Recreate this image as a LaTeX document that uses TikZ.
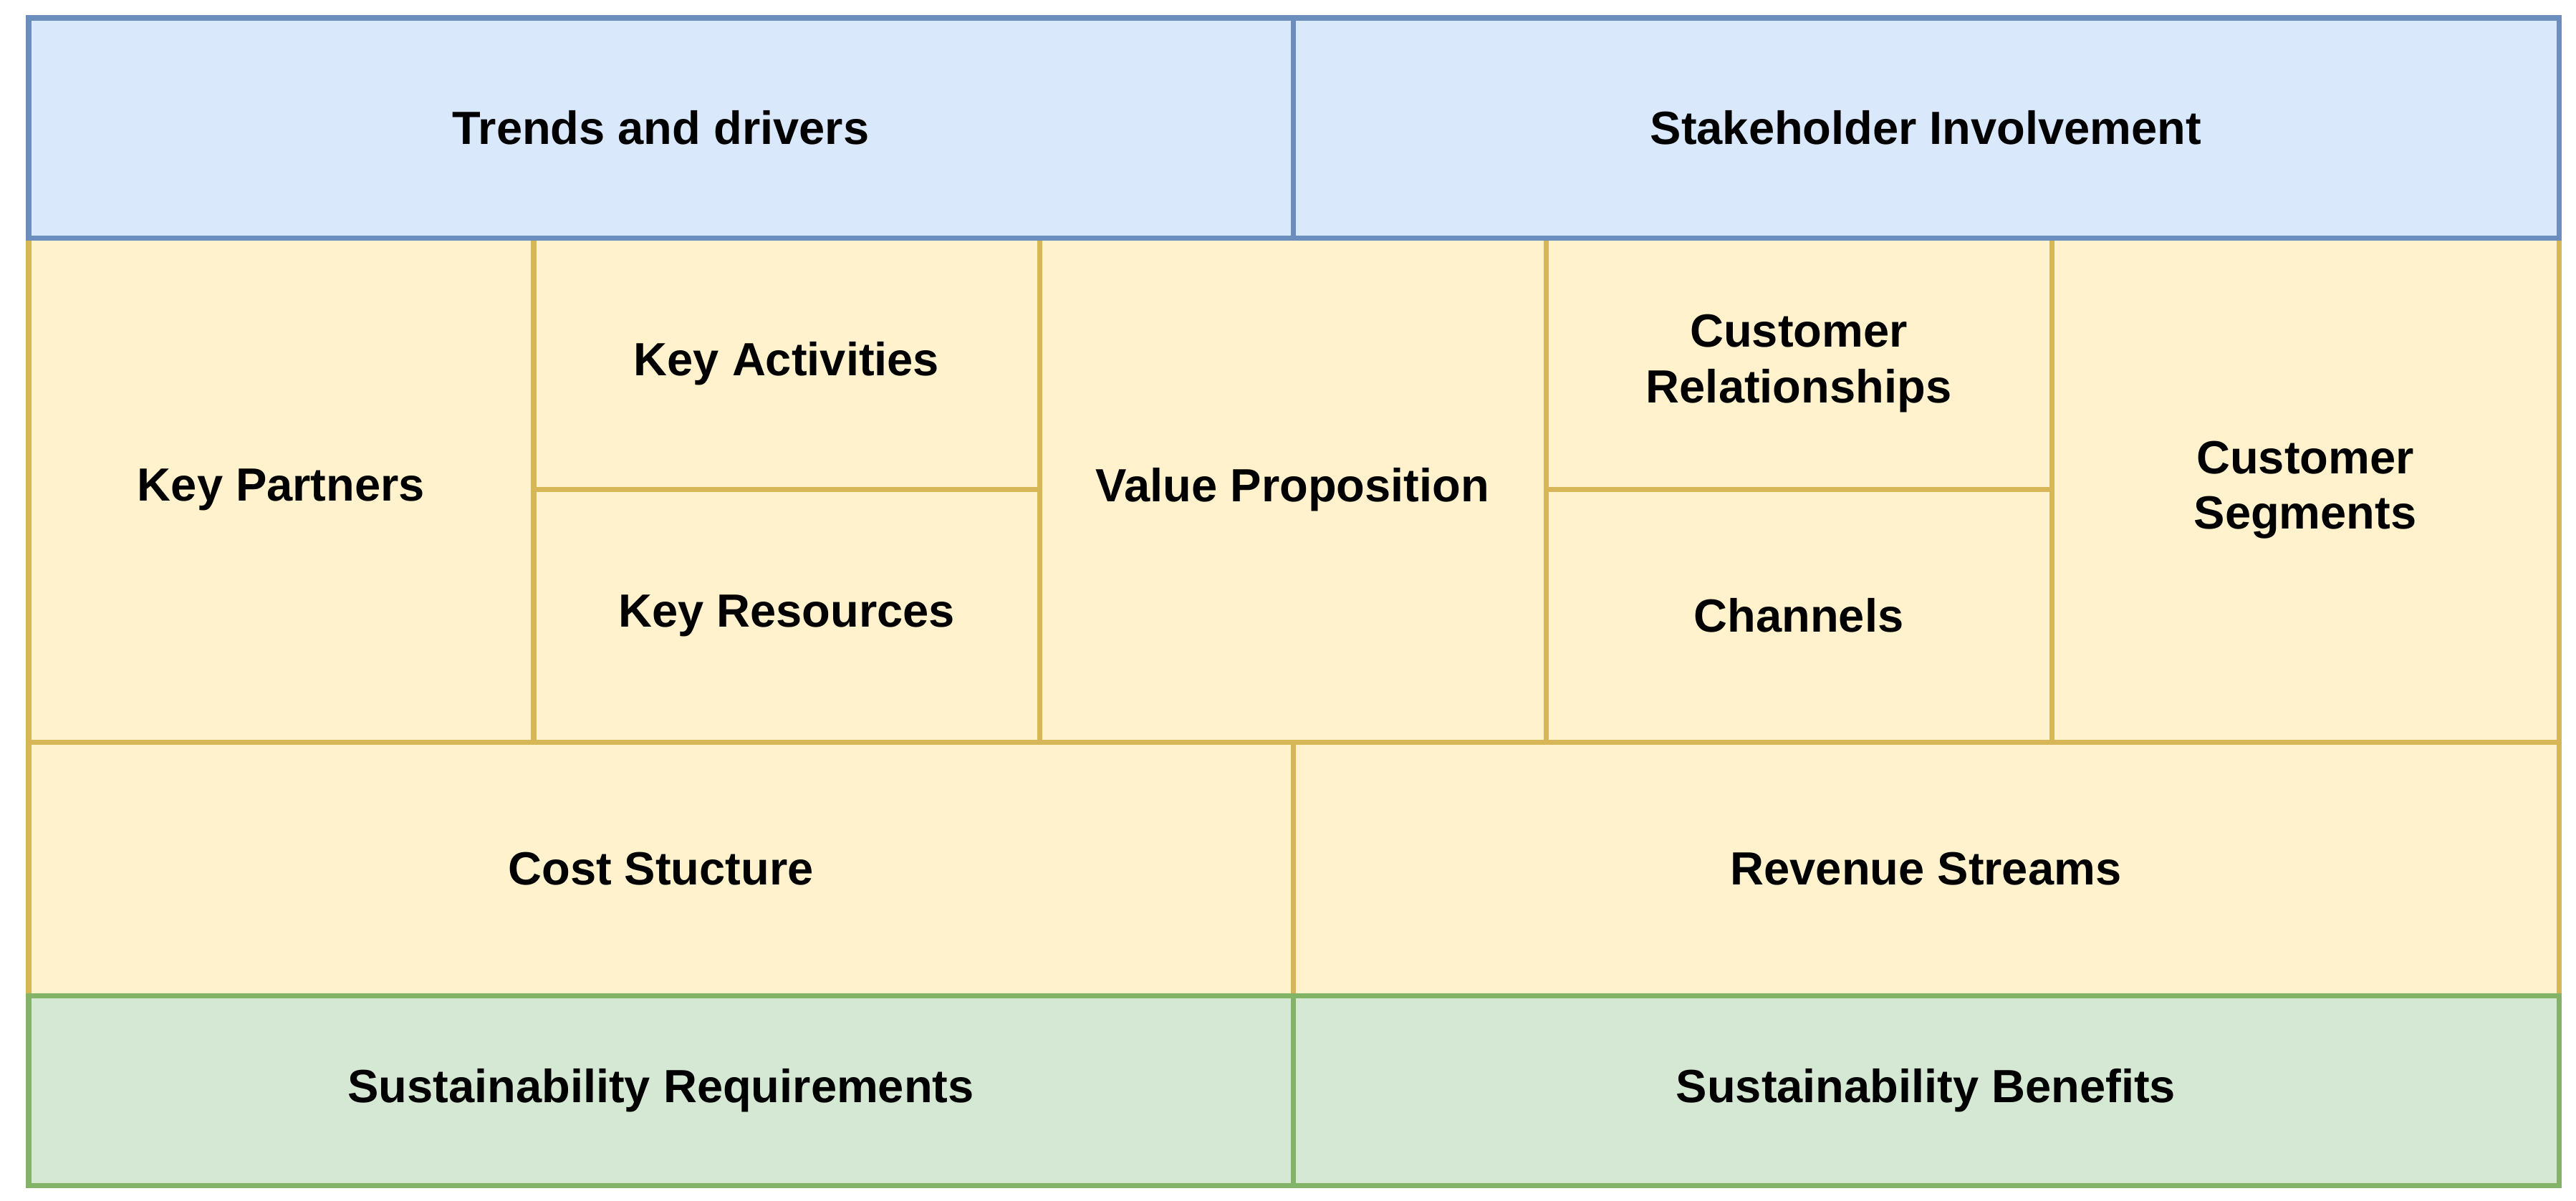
\documentclass[tikz,border=0pt]{standalone}
\usepackage{fontspec}
\setmainfont{Liberation Sans}
\usepackage{tikz}
\usepackage{xcolor}

\definecolor{bluefill}{HTML}{DAE8FC}
\definecolor{blueline}{HTML}{6C8EBF}
\definecolor{yellowfill}{HTML}{FFF2CC}
\definecolor{yellowline}{HTML}{D6B656}
\definecolor{greenfill}{HTML}{D5E8D4}
\definecolor{greenline}{HTML}{82B366}

\begin{document}
\begin{tikzpicture}[
    cell/.style={rectangle, inner sep=0pt, line width=2pt, align=center,
        font=\fontsize{18.5}{22}\selectfont\bfseries},
    yellowcell/.style={cell, fill=yellowfill, draw=yellowline},
    bluecell/.style={cell, fill=bluefill, draw=blueline},
    greencell/.style={cell, fill=greenfill, draw=greenline}
]
    \useasboundingbox (0,0) rectangle (35.96,-16.76);

    % Canvas blocks
    \node[yellowcell, minimum width=7.05cm, minimum height=7.04cm] (partners) at (3.925,-6.84) {Key Partners};
    \node[yellowcell, minimum width=7.06cm, minimum height=3.51cm] (activities) at (10.98,-5.075) {Key Activities};
    \node[yellowcell, minimum width=7.06cm, minimum height=3.53cm] (resources) at (10.98,-8.595) {Key Resources};
    \node[yellowcell, minimum width=7.07cm, minimum height=7.04cm] (value) at (18.045,-6.84) {Value Proposition};
    \node[yellowcell, minimum width=7.06cm, minimum height=3.51cm] (relations) at (25.11,-5.075) {Customer\\Relationships};
    \node[yellowcell, minimum width=7.06cm, minimum height=3.53cm] (channels) at (25.11,-8.595) {Channels};
    \node[yellowcell, minimum width=7.08cm, minimum height=7.04cm] (segments) at (32.18,-6.84) {Customer\\Segments};

    % Costs and revenues
    \node[yellowcell, minimum width=17.65cm, minimum height=3.54cm] (costs) at (9.225,-12.13) {Cost Stucture};
    \node[yellowcell, minimum width=17.67cm, minimum height=3.54cm] (revenue) at (26.885,-12.13) {Revenue Streams};

    % Context row
    \node[bluecell, minimum width=17.65cm, minimum height=3.07cm] (trends) at (9.225,-1.785) {Trends and drivers};
    \node[bluecell, minimum width=17.67cm, minimum height=3.07cm] (stakeholder) at (26.885,-1.785) {Stakeholder Involvement};

    % Sustainability row
    \node[greencell, minimum width=17.65cm, minimum height=2.65cm] (requirements) at (9.225,-15.225) {Sustainability Requirements};
    \node[greencell, minimum width=17.67cm, minimum height=2.65cm] (benefits) at (26.885,-15.225) {Sustainability Benefits};
\end{tikzpicture}
\end{document}
